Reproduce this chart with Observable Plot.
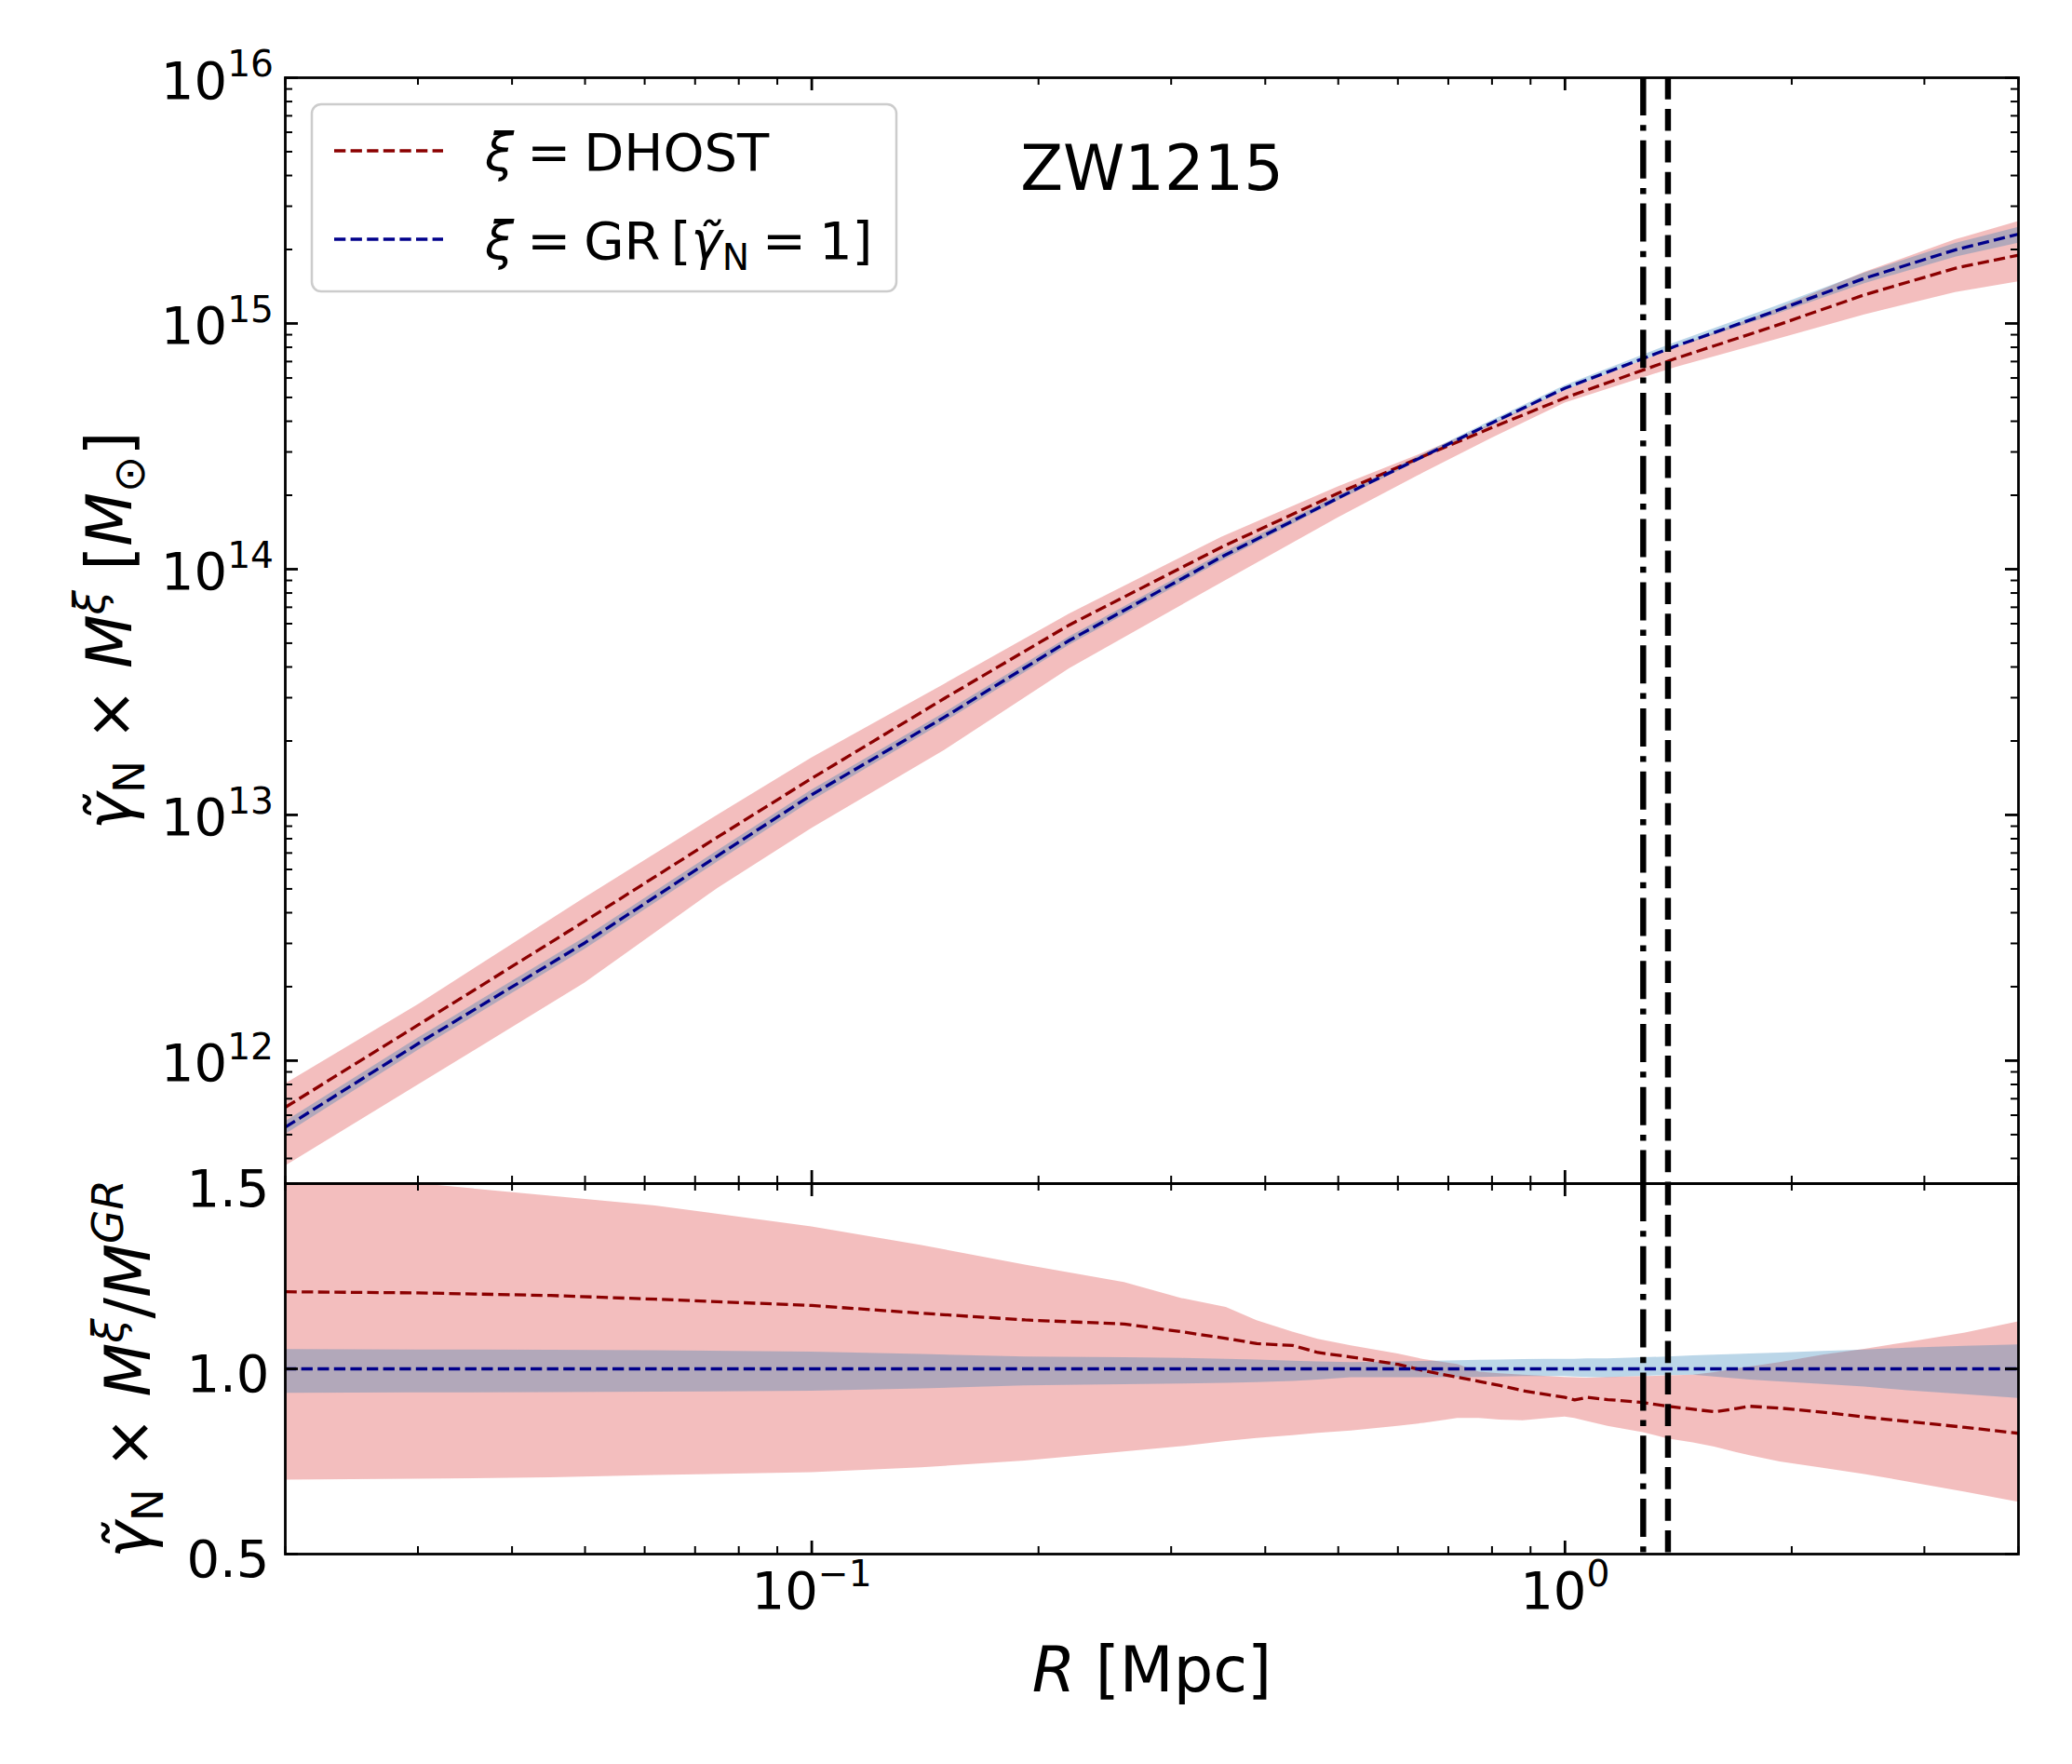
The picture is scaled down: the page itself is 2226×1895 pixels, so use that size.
<!DOCTYPE html>
<html>
<head>
<meta charset="utf-8">
<script src="https://cdn.jsdelivr.net/npm/d3@7"></script>
<script src="https://cdn.jsdelivr.net/npm/@observablehq/plot@0.6"></script>
<style>
html, body { margin: 0; padding: 0; background: #fff; }
#chart { position: relative; width: 2226px; height: 1895px; font-family: "DejaVu Sans"; color: #000; }
#chart svg { position: absolute; left: 0; max-width: none !important; background: transparent !important; overflow: visible !important; font-family: "DejaVu Sans" !important; color: #000 !important; }
</style>
</head>
<body>
<div id="chart"></div>
<script>
// ---------------- data ----------------
const clusterName = "ZW1215";

// top panel: enclosed mass vs radius
const massR       = [0.02, 0.03, 0.05, 0.075, 0.1, 0.15, 0.22, 0.35, 0.5, 0.65, 0.8, 1.0, 1.4, 1.9, 2.5, 3.3, 4.0];
const grMass      = [5.36e11, 1.172e12, 3.02e12, 6.82e12, 1.208e13, 2.50e13, 5.14e13, 1.122e14, 1.95e14, 2.89e14, 3.94e14, 5.45e14, 8.07e14, 1.122e15, 1.528e15, 1.995e15, 2.31e15];
const grMassLo    = [5.01e11, 1.099e12, 2.84e12, 6.43e12, 1.14e13, 2.38e13, 4.91e13, 1.077e14, 1.90e14, 2.82e14, 3.85e14, 5.33e14, 7.93e14, 1.083e15, 1.453e15, 1.86e15, 2.12e15];
const grMassHi    = [5.64e11, 1.236e12, 3.17e12, 7.14e12, 1.262e13, 2.60e13, 5.31e13, 1.158e14, 1.99e14, 2.95e14, 4.03e14, 5.59e14, 8.35e14, 1.17e15, 1.605e15, 2.115e15, 2.46e15];
const dhostMass   = [6.46e11, 1.396e12, 3.70e12, 8.13e12, 1.409e13, 2.98e13, 5.94e13, 1.23e14, 2.04e14, 2.89e14, 3.77e14, 4.98e14, 7.19e14, 9.77e14, 1.309e15, 1.679e15, 1.897e15];
const dhostMassLo = [3.72e11, 7.94e11, 2.07e12, 5.02e12, 8.81e12, 1.828e13, 3.94e13, 8.79e13, 1.62e14, 2.47e14, 3.41e14, 4.74e14, 6.61e14, 8.56e14, 1.084e15, 1.337e15, 1.476e15];
const dhostMassHi = [8.04e11, 1.687e12, 4.60e12, 9.98e12, 1.706e13, 3.40e13, 6.58e13, 1.349e14, 2.163e14, 2.98e14, 3.90e14, 5.33e14, 7.93e14, 1.138e15, 1.614e15, 2.19e15, 2.60e15];

// bottom panel: ratio to GR
const ratioR       = [0.02, 0.03, 0.045, 0.062, 0.1, 0.14, 0.192, 0.26, 0.31, 0.355, 0.39, 0.435, 0.47, 0.52, 0.6, 0.65, 0.72, 0.77, 0.82, 0.88, 0.95, 1.0, 1.03, 1.07, 1.14, 1.27, 1.37, 1.48, 1.58, 1.69, 1.76, 1.93, 2.2, 2.5, 2.85, 3.4, 4.0];
const dhostRatio   = [1.208, 1.205, 1.198, 1.188, 1.171, 1.150, 1.132, 1.121, 1.100, 1.082, 1.068, 1.063, 1.044, 1.032, 1.012, 0.995, 0.977, 0.966, 0.955, 0.941, 0.930, 0.923, 0.916, 0.923, 0.917, 0.909, 0.899, 0.891, 0.884, 0.893, 0.899, 0.894, 0.883, 0.870, 0.858, 0.842, 0.826];
const dhostRatioLo = [0.700, 0.702, 0.706, 0.712, 0.720, 0.733, 0.751, 0.776, 0.790, 0.804, 0.812, 0.820, 0.826, 0.832, 0.845, 0.853, 0.866, 0.866, 0.862, 0.860, 0.866, 0.870, 0.866, 0.858, 0.845, 0.828, 0.811, 0.800, 0.789, 0.774, 0.766, 0.749, 0.732, 0.715, 0.695, 0.667, 0.640];
const dhostRatioHi = [1.50, 1.50, 1.466, 1.44, 1.383, 1.333, 1.28, 1.233, 1.19, 1.166, 1.13, 1.099, 1.08, 1.062, 1.04, 1.025, 1.012, 0.991, 0.987, 0.983, 0.979, 0.977, 0.976, 0.975, 0.977, 0.979, 0.981, 0.983, 0.99, 1.0, 1.005, 1.017, 1.037, 1.053, 1.071, 1.097, 1.127];
const grRatioLo    = [0.934, 0.935, 0.936, 0.937, 0.940, 0.946, 0.954, 0.957, 0.959, 0.961, 0.963, 0.966, 0.970, 0.976, 0.976, 0.976, 0.977, 0.977, 0.978, 0.979, 0.979, 0.979, 0.978, 0.977, 0.976, 0.980, 0.982, 0.983, 0.978, 0.973, 0.970, 0.965, 0.958, 0.951, 0.941, 0.930, 0.920];
const grRatioHi    = [1.052, 1.051, 1.050, 1.049, 1.045, 1.039, 1.032, 1.030, 1.028, 1.026, 1.024, 1.021, 1.019, 1.017, 1.019, 1.020, 1.022, 1.023, 1.024, 1.025, 1.026, 1.026, 1.026, 1.027, 1.027, 1.030, 1.032, 1.035, 1.037, 1.039, 1.040, 1.043, 1.047, 1.051, 1.056, 1.061, 1.065];
const grRatio = 1;

// vertical radius markers (dash-dot, dashed)
const radiusLines = [1.27, 1.37];

// ticks
const xMajorTicks = [0.1, 1];
const xTickExponents = ["\u22121", "0"];
const xMinorTicks = [0.02, 0.03, 0.04, 0.05, 0.06, 0.07, 0.08, 0.09, 0.2, 0.3, 0.4, 0.5, 0.6, 0.7, 0.8, 0.9, 2, 3, 4];
const yMassMajorTicks = [1e12, 1e13, 1e14, 1e15, 1e16];
const yMassTickExponents = ["12", "13", "14", "15", "16"];
const yMassMinorTicks = [4e11, 5e11, 6e11, 7e11, 8e11, 9e11,
  2e12, 3e12, 4e12, 5e12, 6e12, 7e12, 8e12, 9e12,
  2e13, 3e13, 4e13, 5e13, 6e13, 7e13, 8e13, 9e13,
  2e14, 3e14, 4e14, 5e14, 6e14, 7e14, 8e14, 9e14,
  2e15, 3e15, 4e15, 5e15, 6e15, 7e15, 8e15, 9e15];
const yRatioTicks = [0.5, 1.0, 1.5];
const yRatioTickLabels = ["0.5", "1.0", "1.5"];

// texts
const G = "\u03b3\u0303";
const SP = "\u2005";
const topYTitleParts = [[G, "i"], ["N", "sub"], [" \u00d7 ", ""], ["M", "i"], ["\u03be", "isup"], [" [", ""], ["M", "i"], ["\u2299", "sub"], ["]", ""]];
const botYTitleParts = [[G, "i"], ["N", "sub"], [" \u00d7 ", ""], ["M", "i"], ["\u03be", "isup"], ["/", ""], ["M", "i"], ["GR", "isup"]];
const xTitleParts = [["R", "i"], [" [Mpc]", ""]];
const legendItems = [
  {parts: [["\u03be", "i"], [SP + "=" + SP + "DHOST", ""]], color: "#8b0000"},
  {parts: [["\u03be", "i"], [SP + "=" + SP + "GR\u2009[", ""], [G, "i"], ["N", "sub"], [SP + "=" + SP + "1]", ""]], color: "#00008b"}
];

// ---------------- helpers ----------------
const SVGNS = "http://www.w3.org/2000/svg";
const plain = parts => parts.map(p => p[0]).join("");
function richText(el, parts, size) {
  while (el.firstChild) el.removeChild(el.firstChild);
  let shift = 0;
  for (const [t, kind] of parts) {
    const ts = document.createElementNS(SVGNS, "tspan");
    const isSub = kind.includes("sub"), isSup = kind.includes("sup");
    const target = isSub ? 0.22 * size : isSup ? -0.42 * size : 0;
    const dy = target - shift; shift = target;
    if (dy) ts.setAttribute("dy", dy.toFixed(2));
    if (isSub || isSup) ts.setAttribute("font-size", (0.7 * size).toFixed(1));
    if (kind.startsWith("i")) ts.setAttribute("font-style", "italic");
    ts.textContent = t;
    el.appendChild(ts);
  }
}
function applyRich(svg, parts, size) {
  const p = plain(parts);
  for (const t of svg.querySelectorAll("text")) if (t.textContent === p) richText(t, parts, size);
}
function applySuperscripts(svg, size) {
  for (const t of svg.querySelectorAll("text")) {
    const s = t.textContent, k = s.indexOf("^");
    if (k > 0) richText(t, [[s.slice(0, k), ""], [s.slice(k + 1), "sup"]], size);
  }
}

// ---------------- layout ----------------
const W = 2226, ML = 306, MR = 58;
const FW = W - ML - MR;
const TOP_MT = 83, FH1 = 1188, FH2 = 398, BOT_MT = 10, BOT_MB = 226;
const MAJ = 14, MIN = 8;

function tickMarks(yMaj, yMin, FH) {
  const m = [];
  for (const [vals, len, sw] of [[xMajorTicks, MAJ, 2.8], [xMinorTicks, MIN, 2]]) {
    m.push(Plot.tickX(vals, {x: d => d, insetBottom: FH - len, stroke: "black", strokeWidth: sw}));
    m.push(Plot.tickX(vals, {x: d => d, insetTop: FH - len, stroke: "black", strokeWidth: sw}));
  }
  for (const [vals, len, sw] of [[yMaj, MAJ, 2.8], [yMin, MIN, 2]]) {
    if (!vals.length) continue;
    m.push(Plot.tickY(vals, {y: d => d, insetRight: FW - len, stroke: "black", strokeWidth: sw}));
    m.push(Plot.tickY(vals, {y: d => d, insetLeft: FW - len, stroke: "black", strokeWidth: sw}));
  }
  return m;
}
const lineStyle = {strokeWidth: 3.3, strokeDasharray: "12.3,5.3", strokeLinecap: "butt", strokeLinejoin: "round"};
const vlineMarks = () => [
  Plot.ruleX([radiusLines[0]], {stroke: "black", strokeWidth: 6.4, strokeDasharray: "41,10.2,6.4,10.2"}),
  Plot.ruleX([radiusLines[1]], {stroke: "black", strokeWidth: 6.4, strokeDasharray: "23.7,10.2"})
];

const topRows = massR.map((R, i) => ({R, gr: grMass[i], grLo: grMassLo[i], grHi: grMassHi[i], dh: dhostMass[i], dhLo: dhostMassLo[i], dhHi: dhostMassHi[i]}));
const botRows = ratioR.map((R, i) => ({R, dh: dhostRatio[i], dhLo: dhostRatioLo[i], dhHi: dhostRatioHi[i], grLo: grRatioLo[i], grHi: grRatioHi[i]}));

const xScale = {type: "log", domain: [0.02, 4], axis: null};

const topSvg = Plot.plot({
  width: W, height: TOP_MT + FH1,
  marginLeft: ML, marginRight: MR, marginTop: TOP_MT, marginBottom: 0,
  x: xScale,
  y: {type: "log", domain: [3.16e11, 1e16], axis: null},
  marks: [
    Plot.areaY(topRows, {x: "R", y1: "dhLo", y2: "dhHi", fill: "#d62728", fillOpacity: 0.3}),
    Plot.areaY(topRows, {x: "R", y1: "grLo", y2: "grHi", fill: "#1f77b4", fillOpacity: 0.3}),
    Plot.line(topRows, {x: "R", y: "dh", stroke: "#8b0000", ...lineStyle}),
    Plot.line(topRows, {x: "R", y: "gr", stroke: "#00008b", ...lineStyle}),
    ...vlineMarks(),
    Plot.frame({stroke: "black", strokeWidth: 2.8}),
    ...tickMarks(yMassMajorTicks, yMassMinorTicks, FH1),
    Plot.text(yMassMajorTicks, {y: d => d, text: (d, i) => "10^" + yMassTickExponents[i], frameAnchor: "left", textAnchor: "end", lineAnchor: "bottom", dx: -12.5, dy: 22, fontSize: 56, fill: "black"}),
    Plot.text([clusterName], {frameAnchor: "top", textAnchor: "middle", lineAnchor: "bottom", dy: 120, fontSize: 67, fill: "black"}),
    Plot.text([plain(topYTitleParts)], {frameAnchor: "left", textAnchor: "middle", dx: -166, rotate: -90, lineAnchor: "bottom", fontSize: 67, fill: "black"})
  ]
});

const botSvg = Plot.plot({
  width: W, height: BOT_MT + FH2 + BOT_MB,
  marginLeft: ML, marginRight: MR, marginTop: BOT_MT, marginBottom: BOT_MB,
  x: xScale,
  y: {type: "linear", domain: [0.5, 1.5], axis: null},
  marks: [
    Plot.areaY(botRows, {x: "R", y1: "dhLo", y2: "dhHi", fill: "#d62728", fillOpacity: 0.3, clip: true}),
    Plot.areaY(botRows, {x: "R", y1: "grLo", y2: "grHi", fill: "#1f77b4", fillOpacity: 0.3, clip: true}),
    Plot.line(botRows, {x: "R", y: "dh", stroke: "#8b0000", ...lineStyle}),
    Plot.ruleY([grRatio], {stroke: "#00008b", ...lineStyle}),
    ...vlineMarks(),
    Plot.frame({stroke: "black", strokeWidth: 2.8}),
    ...tickMarks(yRatioTicks, [], FH2),
    Plot.text(yRatioTicks, {y: d => d, text: (d, i) => yRatioTickLabels[i], frameAnchor: "left", textAnchor: "end", dx: -17, dy: 7, fontSize: 56, fill: "black"}),
    Plot.text(xMajorTicks, {x: d => d, text: (d, i) => "10^" + xTickExponents[i], frameAnchor: "bottom", textAnchor: "middle", lineAnchor: "bottom", dy: 58.5, fontSize: 56, fill: "black"}),
    Plot.text([plain(xTitleParts)], {frameAnchor: "bottom", textAnchor: "middle", lineAnchor: "bottom", dy: 147, fontSize: 67, fill: "black"}),
    Plot.text([plain(botYTitleParts)], {frameAnchor: "left", textAnchor: "middle", dx: -146, rotate: -90, lineAnchor: "bottom", fontSize: 67, fill: "black"})
  ]
});

applySuperscripts(topSvg, 56);
applySuperscripts(botSvg, 56);
applyRich(topSvg, topYTitleParts, 67);
applyRich(botSvg, botYTitleParts, 67);
applyRich(botSvg, xTitleParts, 67);

topSvg.style.top = "0px";
botSvg.style.top = (TOP_MT + FH1 - BOT_MT) + "px";

const chart = document.getElementById("chart");
chart.appendChild(topSvg);
chart.appendChild(botSvg);

// legend (inside the upper panel)
const leg = d3.create("svg")
  .attr("width", 640).attr("height", 215)
  .style("position", "absolute").style("left", "333px").style("top", "110px");
leg.append("rect").attr("x", 2).attr("y", 2).attr("width", 628).attr("height", 201).attr("rx", 10)
  .attr("fill", "white").attr("fill-opacity", 0.8).attr("stroke", "#cccccc").attr("stroke-width", 2.5);
legendItems.forEach((item, i) => {
  const cy = 52 + i * 95;
  leg.append("line").attr("x1", 26).attr("x2", 143).attr("y1", cy).attr("y2", cy)
    .attr("stroke", item.color).attr("stroke-width", 3.3).attr("stroke-dasharray", "12.3,5.3");
  const t = leg.append("text").attr("x", 188).attr("y", cy + 21).attr("font-size", 56).attr("fill", "black");
  richText(t.node(), item.parts, 56);
});
chart.appendChild(leg.node());
</script>
</body>
</html>
